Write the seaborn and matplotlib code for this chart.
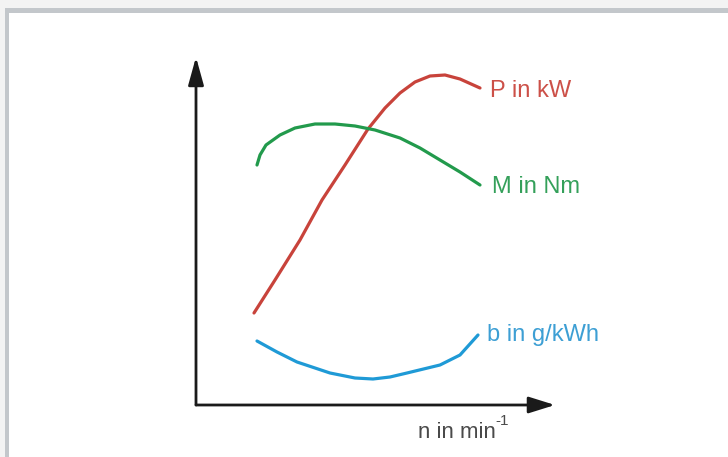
import matplotlib
matplotlib.use('Agg')
import matplotlib.pyplot as plt
import seaborn as sns
import pandas as pd
from matplotlib.patches import Rectangle

# schematic engine characteristics
# x = engine speed, y = curve value (arbitrary units from the origin)
p_x = [58, 79, 104, 126, 149, 172, 189, 204, 219, 234, 249, 264, 284]
p_y = [92, 125, 165, 205, 240, 276, 297, 312, 323, 329, 330, 326, 317]

m_x = [61, 64, 70, 84, 99, 119, 139, 159, 179, 204, 224, 244, 264, 284]
m_y = [240, 250, 260, 270, 277, 281, 281, 279, 275, 267, 257, 245, 233, 220]

b_x = [61, 81, 101, 134, 159, 177, 194, 211, 244, 264, 282]
b_y = [64, 53, 43, 32, 27, 26, 28, 32, 40, 50, 70]

labels = ['P in kW', 'M in Nm', 'b in g/kWh']
colors = ['#c8433b', '#229a4c', '#1f9ad6']
text_colors = ['#cc5048', '#34a05a', '#3d9fd4']

sns.set_style('white')
plt.rcParams['font.family'] = ['Liberation Sans', 'DejaVu Sans']

fig = plt.figure(figsize=(7.28, 4.57), dpi=100)
fig.patch.set_facecolor('#f3f3f3')

# background frame
bg = fig.add_axes([0, 0, 1, 1])
bg.set_xlim(0, 728)
bg.set_ylim(457, 0)
bg.axis('off')
bg.add_patch(Rectangle((5, 8), 730, 460, facecolor='#c3c7cb', edgecolor='none'))
bg.add_patch(Rectangle((9, 13), 730, 460, facecolor='white', edgecolor='none'))

# chart axes: origin at pixel (196, 405)
ax = fig.add_axes([196 / 728, 52 / 457, 359 / 728, 348 / 457])
ax.set_xlim(0, 359)
ax.set_ylim(0, 348)
ax.axis('off')
ax.patch.set_alpha(0)

curves = [(p_x, p_y), (m_x, m_y), (b_x, b_y)]
for (xs, ys), lab, col in zip(curves, labels, colors):
    df = pd.DataFrame({'n': xs, 'v': ys})
    sns.lineplot(data=df, x='n', y='v', ax=ax, color=col, linewidth=2.3,
                 solid_capstyle='round', solid_joinstyle='round', sort=False)

# curve labels
ax.text(294, 314, labels[0], color=text_colors[0], fontsize=17, va='center', ha='left')
ax.text(296, 218, labels[1], color=text_colors[1], fontsize=17, va='center', ha='left')
ax.text(291, 70, labels[2], color=text_colors[2], fontsize=17, va='center', ha='left')

# axis arrows
ax.annotate('', xy=(359, 0), xytext=(0, 0), annotation_clip=False,
            arrowprops=dict(arrowstyle='-|>,head_length=1.6,head_width=0.5',
                            mutation_scale=10, lw=2, color='#1a1a1a',
                            shrinkA=0, shrinkB=0))
ax.annotate('', xy=(0, 348), xytext=(0, 0), annotation_clip=False,
            arrowprops=dict(arrowstyle='-|>,head_length=1.7,head_width=0.47',
                            mutation_scale=10, lw=2, color='#1a1a1a',
                            shrinkA=0, shrinkB=0))

t = ax.text(222, -27, 'n in min', color='#4a4a4a', fontsize=16, va='center', ha='left')
ax.annotate('-1', xy=(1.0, 1.02), xycoords=t, color='#4a4a4a', fontsize=11,
            va='center', ha='left')

ax.set_xlabel('')
ax.set_ylabel('')
if ax.get_legend():
    ax.get_legend().remove()

fig.savefig('out.png', dpi=100, facecolor=fig.get_facecolor())
